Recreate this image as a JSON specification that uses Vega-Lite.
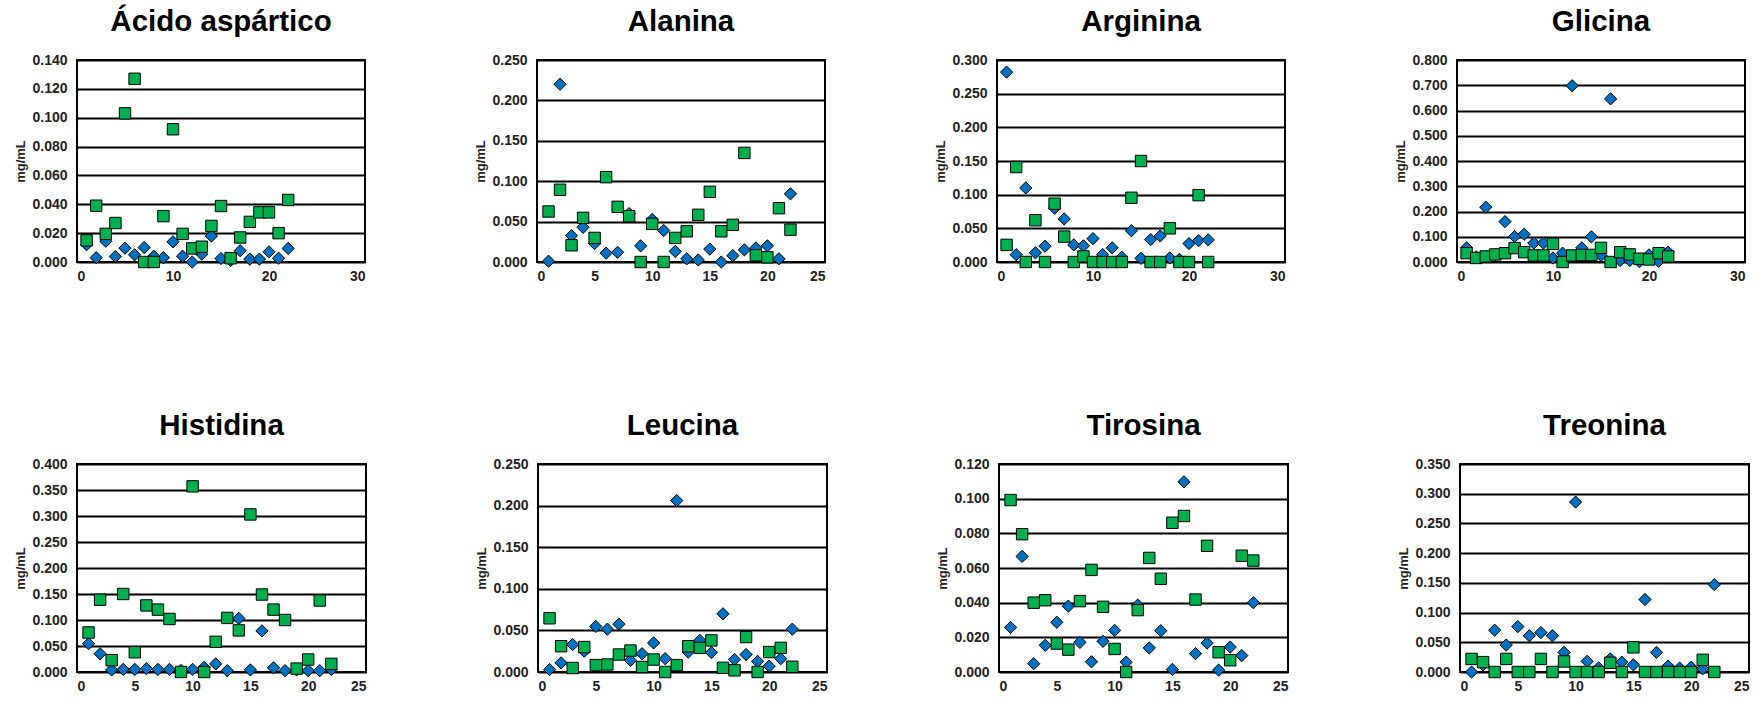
{
  "$schema": "https://vega.github.io/schema/vega-lite/v6.json",
  "padding": {"left": 13, "top": 5, "right": 5, "bottom": 5},
  "background": "white",
  "config": {
    "font": "Liberation Sans",
    "view": {"stroke": "black", "strokeWidth": 2},
    "axis": {"labelFont": "Liberation Sans", "labelFontSize": 14, "labelFontWeight": "bold", "labelColor": "#222", "domain": false, "ticks": false, "gridColor": "black", "gridWidth": 2, "gridOpacity": 1, "titleFont": "Liberation Sans", "titleFontSize": 13, "titleFontWeight": "bold", "titleColor": "#222", "titlePadding": 4, "labelPadding": 10},
    "axisX": {"grid": false, "labelPadding": 7},
    "title": {"font": "Liberation Sans", "fontSize": 29.5, "fontWeight": "bold", "color": "black", "baseline": "alphabetic", "offset": 16}
  },
  "datasets": {
    "asp": [
      {"n":1,"s":"s1","v":0.012},{"n":2,"s":"s1","v":0.003},{"n":3,"s":"s1","v":0.0144},{"n":4,"s":"s1","v":0.0038},{"n":5,"s":"s1","v":0.0096},{"n":6,"s":"s1","v":0.005},{"n":7,"s":"s1","v":0.010},{"n":8,"s":"s1","v":0.004},{"n":9,"s":"s1","v":0.003},{"n":10,"s":"s1","v":0.014},{"n":11,"s":"s1","v":0.004},{"n":12,"s":"s1","v":0.000},{"n":13,"s":"s1","v":0.0054},{"n":14,"s":"s1","v":0.018},{"n":15,"s":"s1","v":0.0024},{"n":16,"s":"s1","v":0.001},{"n":17,"s":"s1","v":0.0078},{"n":18,"s":"s1","v":0.002},{"n":19,"s":"s1","v":0.002},{"n":20,"s":"s1","v":0.007},{"n":21,"s":"s1","v":0.0026},{"n":22,"s":"s1","v":0.0094},
      {"n":1,"s":"s2","v":0.015},{"n":2,"s":"s2","v":0.039},{"n":3,"s":"s2","v":0.0195},{"n":4,"s":"s2","v":0.027},{"n":5,"s":"s2","v":0.103},{"n":6,"s":"s2","v":0.127},{"n":7,"s":"s2","v":0},{"n":8,"s":"s2","v":0},{"n":9,"s":"s2","v":0.0318},{"n":10,"s":"s2","v":0.092},{"n":11,"s":"s2","v":0.0195},{"n":12,"s":"s2","v":0.0094},{"n":13,"s":"s2","v":0.0106},{"n":14,"s":"s2","v":0.025},{"n":15,"s":"s2","v":0.0388},{"n":16,"s":"s2","v":0.0026},{"n":17,"s":"s2","v":0.017},{"n":18,"s":"s2","v":0.0278},{"n":19,"s":"s2","v":0.0344},{"n":20,"s":"s2","v":0.0344},{"n":21,"s":"s2","v":0.020},{"n":22,"s":"s2","v":0.043}
    ],
    "ala": [
      {"n":1,"s":"s1","v":0.001},{"n":2,"s":"s1","v":0.220},{"n":3,"s":"s1","v":0.0327},{"n":4,"s":"s1","v":0.043},{"n":5,"s":"s1","v":0.0228},{"n":6,"s":"s1","v":0.011},{"n":7,"s":"s1","v":0.012},{"n":8,"s":"s1","v":0.060},{"n":9,"s":"s1","v":0.020},{"n":10,"s":"s1","v":0.0526},{"n":11,"s":"s1","v":0.039},{"n":12,"s":"s1","v":0.0132},{"n":13,"s":"s1","v":0.004},{"n":14,"s":"s1","v":0.0025},{"n":15,"s":"s1","v":0.016},{"n":16,"s":"s1","v":0},{"n":17,"s":"s1","v":0.0079},{"n":18,"s":"s1","v":0.015},{"n":19,"s":"s1","v":0.0174},{"n":20,"s":"s1","v":0.020},{"n":21,"s":"s1","v":0.004},{"n":22,"s":"s1","v":0.0844},
      {"n":1,"s":"s2","v":0.0625},{"n":2,"s":"s2","v":0.0894},{"n":3,"s":"s2","v":0.0207},{"n":4,"s":"s2","v":0.0546},{"n":5,"s":"s2","v":0.0298},{"n":6,"s":"s2","v":0.105},{"n":7,"s":"s2","v":0.0683},{"n":8,"s":"s2","v":0.0567},{"n":9,"s":"s2","v":0},{"n":10,"s":"s2","v":0.0472},{"n":11,"s":"s2","v":0},{"n":12,"s":"s2","v":0.0298},{"n":13,"s":"s2","v":0.038},{"n":14,"s":"s2","v":0.0584},{"n":15,"s":"s2","v":0.0869},{"n":16,"s":"s2","v":0.038},{"n":17,"s":"s2","v":0.046},{"n":18,"s":"s2","v":0.135},{"n":19,"s":"s2","v":0.0083},{"n":20,"s":"s2","v":0.0058},{"n":21,"s":"s2","v":0.0666},{"n":22,"s":"s2","v":0.040}
    ],
    "arg": [
      {"n":1,"s":"s1","v":0.282},{"n":2,"s":"s1","v":0.0108},{"n":3,"s":"s1","v":0.110},{"n":4,"s":"s1","v":0.0137},{"n":5,"s":"s1","v":0.0235},{"n":6,"s":"s1","v":0.08},{"n":7,"s":"s1","v":0.064},{"n":8,"s":"s1","v":0.0254},{"n":9,"s":"s1","v":0.024},{"n":10,"s":"s1","v":0.0347},{"n":11,"s":"s1","v":0.011},{"n":12,"s":"s1","v":0.021},{"n":13,"s":"s1","v":0.007},{"n":14,"s":"s1","v":0.0465},{"n":15,"s":"s1","v":0.0054},{"n":16,"s":"s1","v":0.0333},{"n":17,"s":"s1","v":0.0387},{"n":18,"s":"s1","v":0.006},{"n":19,"s":"s1","v":0.004},{"n":20,"s":"s1","v":0.0274},{"n":21,"s":"s1","v":0.0318},{"n":22,"s":"s1","v":0.0328},
      {"n":1,"s":"s2","v":0.0254},{"n":2,"s":"s2","v":0.141},{"n":3,"s":"s2","v":0},{"n":4,"s":"s2","v":0.062},{"n":5,"s":"s2","v":0},{"n":6,"s":"s2","v":0.0866},{"n":7,"s":"s2","v":0.0377},{"n":8,"s":"s2","v":0},{"n":9,"s":"s2","v":0.0083},{"n":10,"s":"s2","v":0},{"n":11,"s":"s2","v":0},{"n":12,"s":"s2","v":0},{"n":13,"s":"s2","v":0},{"n":14,"s":"s2","v":0.0954},{"n":15,"s":"s2","v":0.150},{"n":16,"s":"s2","v":0},{"n":17,"s":"s2","v":0},{"n":18,"s":"s2","v":0.050},{"n":19,"s":"s2","v":0},{"n":20,"s":"s2","v":0},{"n":21,"s":"s2","v":0.0993},{"n":22,"s":"s2","v":0}
    ],
    "gli": [
      {"n":1,"s":"s1","v":0.056},{"n":2,"s":"s1","v":0.02},{"n":3,"s":"s1","v":0.217},{"n":4,"s":"s1","v":0.03},{"n":5,"s":"s1","v":0.160},{"n":6,"s":"s1","v":0.101},{"n":7,"s":"s1","v":0.110},{"n":8,"s":"s1","v":0.075},{"n":9,"s":"s1","v":0.075},{"n":10,"s":"s1","v":0.016},{"n":11,"s":"s1","v":0.035},{"n":12,"s":"s1","v":0.698},{"n":13,"s":"s1","v":0.056},{"n":14,"s":"s1","v":0.100},{"n":15,"s":"s1","v":0.026},{"n":16,"s":"s1","v":0.646},{"n":17,"s":"s1","v":0.006},{"n":18,"s":"s1","v":0.006},{"n":19,"s":"s1","v":0.001},{"n":20,"s":"s1","v":0.028},{"n":21,"s":"s1","v":0.003},{"n":22,"s":"s1","v":0.039},
      {"n":1,"s":"s2","v":0.035},{"n":2,"s":"s2","v":0.016},{"n":3,"s":"s2","v":0.022},{"n":4,"s":"s2","v":0.030},{"n":5,"s":"s2","v":0.035},{"n":6,"s":"s2","v":0.055},{"n":7,"s":"s2","v":0.039},{"n":8,"s":"s2","v":0.026},{"n":9,"s":"s2","v":0.026},{"n":10,"s":"s2","v":0.072},{"n":11,"s":"s2","v":0},{"n":12,"s":"s2","v":0.026},{"n":13,"s":"s2","v":0.028},{"n":14,"s":"s2","v":0.028},{"n":15,"s":"s2","v":0.056},{"n":16,"s":"s2","v":0},{"n":17,"s":"s2","v":0.039},{"n":18,"s":"s2","v":0.030},{"n":19,"s":"s2","v":0.013},{"n":20,"s":"s2","v":0.010},{"n":21,"s":"s2","v":0.035},{"n":22,"s":"s2","v":0.022}
    ],
    "his": [
      {"n":1,"s":"s1","v":0.0545},{"n":2,"s":"s1","v":0.035},{"n":3,"s":"s1","v":0.004},{"n":4,"s":"s1","v":0.005},{"n":5,"s":"s1","v":0.005},{"n":6,"s":"s1","v":0.0065},{"n":7,"s":"s1","v":0.005},{"n":8,"s":"s1","v":0.005},{"n":9,"s":"s1","v":0.003},{"n":10,"s":"s1","v":0.005},{"n":11,"s":"s1","v":0.009},{"n":12,"s":"s1","v":0.0156},{"n":13,"s":"s1","v":0.0026},{"n":14,"s":"s1","v":0.103},{"n":15,"s":"s1","v":0.004},{"n":16,"s":"s1","v":0.079},{"n":17,"s":"s1","v":0.008},{"n":18,"s":"s1","v":0.0026},{"n":19,"s":"s1","v":0.004},{"n":20,"s":"s1","v":0.0026},{"n":21,"s":"s1","v":0.0026},{"n":22,"s":"s1","v":0.005},
      {"n":1,"s":"s2","v":0.076},{"n":2,"s":"s2","v":0.139},{"n":3,"s":"s2","v":0.0227},{"n":4,"s":"s2","v":0.150},{"n":5,"s":"s2","v":0.038},{"n":6,"s":"s2","v":0.128},{"n":7,"s":"s2","v":0.120},{"n":8,"s":"s2","v":0.102},{"n":9,"s":"s2","v":0},{"n":10,"s":"s2","v":0.357},{"n":11,"s":"s2","v":0},{"n":12,"s":"s2","v":0.058},{"n":13,"s":"s2","v":0.104},{"n":14,"s":"s2","v":0.080},{"n":15,"s":"s2","v":0.303},{"n":16,"s":"s2","v":0.149},{"n":17,"s":"s2","v":0.120},{"n":18,"s":"s2","v":0.100},{"n":19,"s":"s2","v":0.0065},{"n":20,"s":"s2","v":0.024},{"n":21,"s":"s2","v":0.1375},{"n":22,"s":"s2","v":0.0156}
    ],
    "leu": [
      {"n":1,"s":"s1","v":0.003},{"n":2,"s":"s1","v":0.011},{"n":3,"s":"s1","v":0.033},{"n":4,"s":"s1","v":0.025},{"n":5,"s":"s1","v":0.0547},{"n":6,"s":"s1","v":0.0515},{"n":7,"s":"s1","v":0.0575},{"n":8,"s":"s1","v":0.014},{"n":9,"s":"s1","v":0.022},{"n":10,"s":"s1","v":0.035},{"n":11,"s":"s1","v":0.016},{"n":12,"s":"s1","v":0.206},{"n":13,"s":"s1","v":0.024},{"n":14,"s":"s1","v":0.038},{"n":15,"s":"s1","v":0.0234},{"n":16,"s":"s1","v":0.070},{"n":17,"s":"s1","v":0.015},{"n":18,"s":"s1","v":0.021},{"n":19,"s":"s1","v":0.0127},{"n":20,"s":"s1","v":0.007},{"n":21,"s":"s1","v":0.016},{"n":22,"s":"s1","v":0.0515},
      {"n":1,"s":"s2","v":0.0646},{"n":2,"s":"s2","v":0.031},{"n":3,"s":"s2","v":0.0048},{"n":4,"s":"s2","v":0.030},{"n":5,"s":"s2","v":0.0083},{"n":6,"s":"s2","v":0.009},{"n":7,"s":"s2","v":0.021},{"n":8,"s":"s2","v":0.0258},{"n":9,"s":"s2","v":0.006},{"n":10,"s":"s2","v":0.015},{"n":11,"s":"s2","v":0},{"n":12,"s":"s2","v":0.0083},{"n":13,"s":"s2","v":0.031},{"n":14,"s":"s2","v":0.029},{"n":15,"s":"s2","v":0.038},{"n":16,"s":"s2","v":0.005},{"n":17,"s":"s2","v":0.002},{"n":18,"s":"s2","v":0.042},{"n":19,"s":"s2","v":0},{"n":20,"s":"s2","v":0.024},{"n":21,"s":"s2","v":0.029},{"n":22,"s":"s2","v":0.0063}
    ],
    "tir": [
      {"n":1,"s":"s1","v":0.0257},{"n":2,"s":"s1","v":0.0667},{"n":3,"s":"s1","v":0.0048},{"n":4,"s":"s1","v":0.0154},{"n":5,"s":"s1","v":0.0287},{"n":6,"s":"s1","v":0.038},{"n":7,"s":"s1","v":0.0171},{"n":8,"s":"s1","v":0.0059},{"n":9,"s":"s1","v":0.0177},{"n":10,"s":"s1","v":0.024},{"n":11,"s":"s1","v":0.0057},{"n":12,"s":"s1","v":0.0386},{"n":13,"s":"s1","v":0.0139},{"n":14,"s":"s1","v":0.0238},{"n":15,"s":"s1","v":0.0015},{"n":16,"s":"s1","v":0.1097},{"n":17,"s":"s1","v":0.0106},{"n":18,"s":"s1","v":0.0167},{"n":19,"s":"s1","v":0.0011},{"n":20,"s":"s1","v":0.0144},{"n":21,"s":"s1","v":0.0095},{"n":22,"s":"s1","v":0.040},
      {"n":1,"s":"s2","v":0.0992},{"n":2,"s":"s2","v":0.0795},{"n":3,"s":"s2","v":0.040},{"n":4,"s":"s2","v":0.0414},{"n":5,"s":"s2","v":0.0164},{"n":6,"s":"s2","v":0.0129},{"n":7,"s":"s2","v":0.0409},{"n":8,"s":"s2","v":0.0589},{"n":9,"s":"s2","v":0.0376},{"n":10,"s":"s2","v":0.0133},{"n":11,"s":"s2","v":0},{"n":12,"s":"s2","v":0.0357},{"n":13,"s":"s2","v":0.0658},{"n":14,"s":"s2","v":0.0538},{"n":15,"s":"s2","v":0.0861},{"n":16,"s":"s2","v":0.090},{"n":17,"s":"s2","v":0.0418},{"n":18,"s":"s2","v":0.0728},{"n":19,"s":"s2","v":0.0114},{"n":20,"s":"s2","v":0.0068},{"n":21,"s":"s2","v":0.0671},{"n":22,"s":"s2","v":0.0643}
    ],
    "tre": [
      {"n":1,"s":"s1","v":0},{"n":2,"s":"s1","v":0.012},{"n":3,"s":"s1","v":0.0703},{"n":4,"s":"s1","v":0.0454},{"n":5,"s":"s1","v":0.0764},{"n":6,"s":"s1","v":0.061},{"n":7,"s":"s1","v":0.0664},{"n":8,"s":"s1","v":0.061},{"n":9,"s":"s1","v":0.033},{"n":10,"s":"s1","v":0.286},{"n":11,"s":"s1","v":0.018},{"n":12,"s":"s1","v":0.007},{"n":13,"s":"s1","v":0.022},{"n":14,"s":"s1","v":0.0166},{"n":15,"s":"s1","v":0.012},{"n":16,"s":"s1","v":0.122},{"n":17,"s":"s1","v":0.033},{"n":18,"s":"s1","v":0.010},{"n":19,"s":"s1","v":0.0066},{"n":20,"s":"s1","v":0.008},{"n":21,"s":"s1","v":0.0055},{"n":22,"s":"s1","v":0.147},
      {"n":1,"s":"s2","v":0.022},{"n":2,"s":"s2","v":0.0166},{"n":3,"s":"s2","v":0},{"n":4,"s":"s2","v":0.022},{"n":5,"s":"s2","v":0},{"n":6,"s":"s2","v":0},{"n":7,"s":"s2","v":0.022},{"n":8,"s":"s2","v":0},{"n":9,"s":"s2","v":0.0177},{"n":10,"s":"s2","v":0},{"n":11,"s":"s2","v":0},{"n":12,"s":"s2","v":0},{"n":13,"s":"s2","v":0.0155},{"n":14,"s":"s2","v":0},{"n":15,"s":"s2","v":0.0415},{"n":16,"s":"s2","v":0},{"n":17,"s":"s2","v":0},{"n":18,"s":"s2","v":0},{"n":19,"s":"s2","v":0},{"n":20,"s":"s2","v":0},{"n":21,"s":"s2","v":0.0205},{"n":22,"s":"s2","v":0}
    ]
  },
  "spacing": 125,
  "vconcat": [
    {
      "bounds": "flush",
      "spacing": 172,
      "hconcat": [
        {
          "title": "Ácido aspártico", "width": 288, "height": 202, "data": {"name": "asp"},
          "encoding": {
            "x": {"field": "n", "type": "quantitative", "scale": {"domain": [0, 30], "nice": false}, "axis": {"values": [0, 10, 20, 30], "title": null}},
            "y": {"field": "v", "type": "quantitative", "scale": {"domain": [0, 0.14], "nice": false}, "axis": {"values": [0, 0.02, 0.04, 0.06, 0.08, 0.1, 0.12, 0.14], "format": ".3f", "title": "mg/mL"}}
          },
          "layer": [
            {"transform": [{"filter": "datum.s == 's1'"}], "mark": {"type": "point", "shape": "diamond", "size": 150, "filled": true, "fill": "#0070C0", "stroke": "black", "strokeWidth": 1, "opacity": 1}},
            {"transform": [{"filter": "datum.s == 's2'"}], "mark": {"type": "point", "shape": "square", "size": 130, "filled": true, "fill": "#00B050", "stroke": "black", "strokeWidth": 1, "opacity": 1}}
          ]
        },
        {
          "title": "Alanina", "width": 288, "height": 202, "data": {"name": "ala"},
          "encoding": {
            "x": {"field": "n", "type": "quantitative", "scale": {"domain": [0, 25], "nice": false}, "axis": {"values": [0, 5, 10, 15, 20, 25], "title": null}},
            "y": {"field": "v", "type": "quantitative", "scale": {"domain": [0, 0.25], "nice": false}, "axis": {"values": [0, 0.05, 0.1, 0.15, 0.2, 0.25], "format": ".3f", "title": "mg/mL"}}
          },
          "layer": [
            {"transform": [{"filter": "datum.s == 's1'"}], "mark": {"type": "point", "shape": "diamond", "size": 150, "filled": true, "fill": "#0070C0", "stroke": "black", "strokeWidth": 1, "opacity": 1}},
            {"transform": [{"filter": "datum.s == 's2'"}], "mark": {"type": "point", "shape": "square", "size": 130, "filled": true, "fill": "#00B050", "stroke": "black", "strokeWidth": 1, "opacity": 1}}
          ]
        },
        {
          "title": "Arginina", "width": 288, "height": 202, "data": {"name": "arg"},
          "encoding": {
            "x": {"field": "n", "type": "quantitative", "scale": {"domain": [0, 30], "nice": false}, "axis": {"values": [0, 10, 20, 30], "title": null}},
            "y": {"field": "v", "type": "quantitative", "scale": {"domain": [0, 0.3], "nice": false}, "axis": {"values": [0, 0.05, 0.1, 0.15, 0.2, 0.25, 0.3], "format": ".3f", "title": "mg/mL"}}
          },
          "layer": [
            {"transform": [{"filter": "datum.s == 's1'"}], "mark": {"type": "point", "shape": "diamond", "size": 150, "filled": true, "fill": "#0070C0", "stroke": "black", "strokeWidth": 1, "opacity": 1}},
            {"transform": [{"filter": "datum.s == 's2'"}], "mark": {"type": "point", "shape": "square", "size": 130, "filled": true, "fill": "#00B050", "stroke": "black", "strokeWidth": 1, "opacity": 1}}
          ]
        },
        {
          "title": "Glicina", "width": 288, "height": 202, "data": {"name": "gli"},
          "encoding": {
            "x": {"field": "n", "type": "quantitative", "scale": {"domain": [0, 30], "nice": false}, "axis": {"values": [0, 10, 20, 30], "title": null}},
            "y": {"field": "v", "type": "quantitative", "scale": {"domain": [0, 0.8], "nice": false}, "axis": {"values": [0, 0.1, 0.2, 0.3, 0.4, 0.5, 0.6, 0.7, 0.8], "format": ".3f", "title": "mg/mL"}}
          },
          "layer": [
            {"transform": [{"filter": "datum.s == 's1'"}], "mark": {"type": "point", "shape": "diamond", "size": 150, "filled": true, "fill": "#0070C0", "stroke": "black", "strokeWidth": 1, "opacity": 1}},
            {"transform": [{"filter": "datum.s == 's2'"}], "mark": {"type": "point", "shape": "square", "size": 130, "filled": true, "fill": "#00B050", "stroke": "black", "strokeWidth": 1, "opacity": 1}}
          ]
        }
      ]
    },
    {
      "bounds": "flush",
      "spacing": 172,
      "hconcat": [
        {
          "title": "Histidina", "width": 289, "height": 208, "data": {"name": "his"},
          "encoding": {
            "x": {"field": "n", "type": "quantitative", "scale": {"domain": [0, 25], "nice": false}, "axis": {"values": [0, 5, 10, 15, 20, 25], "title": null}},
            "y": {"field": "v", "type": "quantitative", "scale": {"domain": [0, 0.4], "nice": false}, "axis": {"values": [0, 0.05, 0.1, 0.15, 0.2, 0.25, 0.3, 0.35, 0.4], "format": ".3f", "title": "mg/mL"}}
          },
          "layer": [
            {"transform": [{"filter": "datum.s == 's1'"}], "mark": {"type": "point", "shape": "diamond", "size": 150, "filled": true, "fill": "#0070C0", "stroke": "black", "strokeWidth": 1, "opacity": 1}},
            {"transform": [{"filter": "datum.s == 's2'"}], "mark": {"type": "point", "shape": "square", "size": 130, "filled": true, "fill": "#00B050", "stroke": "black", "strokeWidth": 1, "opacity": 1}}
          ]
        },
        {
          "title": "Leucina", "width": 289, "height": 208, "data": {"name": "leu"},
          "encoding": {
            "x": {"field": "n", "type": "quantitative", "scale": {"domain": [0, 25], "nice": false}, "axis": {"values": [0, 5, 10, 15, 20, 25], "title": null}},
            "y": {"field": "v", "type": "quantitative", "scale": {"domain": [0, 0.25], "nice": false}, "axis": {"values": [0, 0.05, 0.1, 0.15, 0.2, 0.25], "format": ".3f", "title": "mg/mL"}}
          },
          "layer": [
            {"transform": [{"filter": "datum.s == 's1'"}], "mark": {"type": "point", "shape": "diamond", "size": 150, "filled": true, "fill": "#0070C0", "stroke": "black", "strokeWidth": 1, "opacity": 1}},
            {"transform": [{"filter": "datum.s == 's2'"}], "mark": {"type": "point", "shape": "square", "size": 130, "filled": true, "fill": "#00B050", "stroke": "black", "strokeWidth": 1, "opacity": 1}}
          ]
        },
        {
          "title": "Tirosina", "width": 289, "height": 208, "data": {"name": "tir"},
          "encoding": {
            "x": {"field": "n", "type": "quantitative", "scale": {"domain": [0, 25], "nice": false}, "axis": {"values": [0, 5, 10, 15, 20, 25], "title": null}},
            "y": {"field": "v", "type": "quantitative", "scale": {"domain": [0, 0.12], "nice": false}, "axis": {"values": [0, 0.02, 0.04, 0.06, 0.08, 0.1, 0.12], "format": ".3f", "title": "mg/mL"}}
          },
          "layer": [
            {"transform": [{"filter": "datum.s == 's1'"}], "mark": {"type": "point", "shape": "diamond", "size": 150, "filled": true, "fill": "#0070C0", "stroke": "black", "strokeWidth": 1, "opacity": 1}},
            {"transform": [{"filter": "datum.s == 's2'"}], "mark": {"type": "point", "shape": "square", "size": 130, "filled": true, "fill": "#00B050", "stroke": "black", "strokeWidth": 1, "opacity": 1}}
          ]
        },
        {
          "title": "Treonina", "width": 289, "height": 208, "data": {"name": "tre"},
          "encoding": {
            "x": {"field": "n", "type": "quantitative", "scale": {"domain": [0, 25], "nice": false}, "axis": {"values": [0, 5, 10, 15, 20, 25], "title": null}},
            "y": {"field": "v", "type": "quantitative", "scale": {"domain": [0, 0.35], "nice": false}, "axis": {"values": [0, 0.05, 0.1, 0.15, 0.2, 0.25, 0.3, 0.35], "format": ".3f", "title": "mg/mL"}}
          },
          "layer": [
            {"transform": [{"filter": "datum.s == 's1'"}], "mark": {"type": "point", "shape": "diamond", "size": 150, "filled": true, "fill": "#0070C0", "stroke": "black", "strokeWidth": 1, "opacity": 1}},
            {"transform": [{"filter": "datum.s == 's2'"}], "mark": {"type": "point", "shape": "square", "size": 130, "filled": true, "fill": "#00B050", "stroke": "black", "strokeWidth": 1, "opacity": 1}}
          ]
        }
      ]
    }
  ]
}
